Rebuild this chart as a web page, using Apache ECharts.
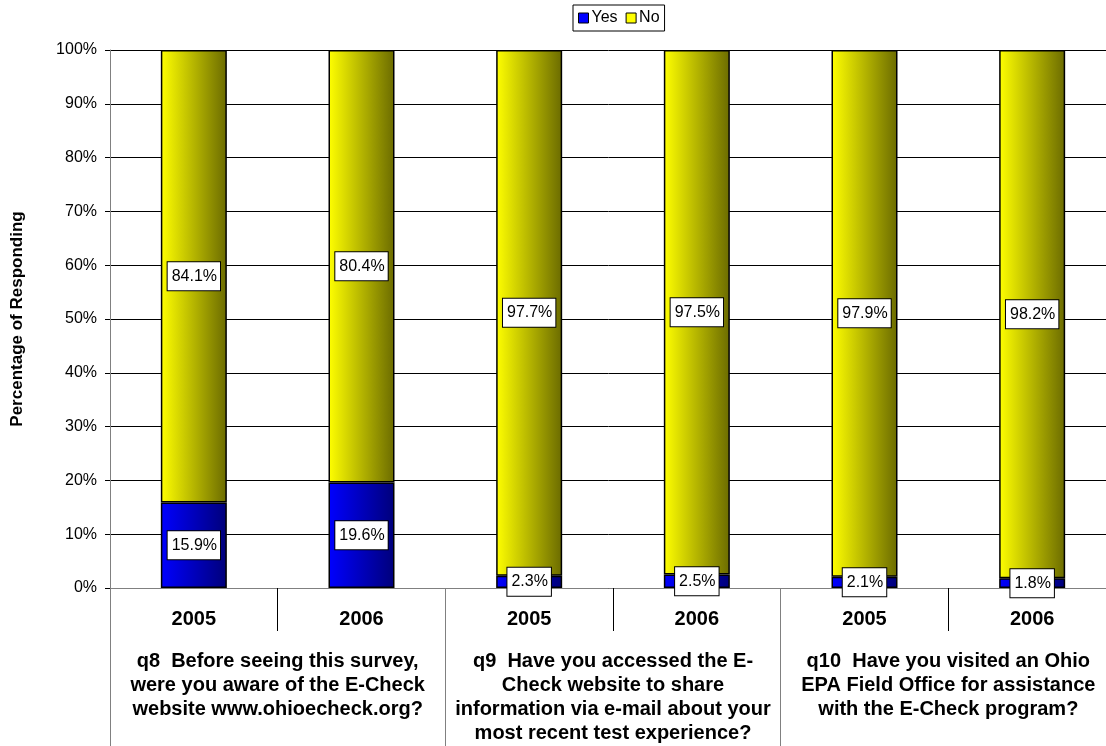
<!DOCTYPE html>
<html>
<head>
<meta charset="utf-8">
<script src="https://cdn.jsdelivr.net/npm/echarts@6/dist/echarts.min.js"></script>
<style>
  html, body { margin: 0; padding: 0; background: #fff; }
  #chart { width: 1106px; height: 746px; }
</style>
</head>
<body>
<div id="chart"></div>
<script>
// Survey years, one bar each
const years = ['2005', '2006', '2005', '2006', '2005', '2006'];
// Questions, each spanning two bars
const questions = [
  'q8  Before seeing this survey,\nwere you aware of the E-Check\nwebsite www.ohioecheck.org?',
  'q9  Have you accessed the E-\nCheck website to share\ninformation via e-mail about your\nmost recent test experience?',
  'q10  Have you visited an Ohio\nEPA Field Office for assistance\nwith the E-Check program?'
];
// Share of respondents (%)
const yesValues = [15.9, 19.6, 2.3, 2.5, 2.1, 1.8];
const noValues = [84.1, 80.4, 97.7, 97.5, 97.9, 98.2];

const FONT = '"Liberation Sans", Arial, sans-serif';

function grad(c0, c1) {
  return new echarts.graphic.LinearGradient(0, 0, 1, 0, [
    { offset: 0, color: c0 },
    { offset: 1, color: c1 }
  ]);
}

const labelStyle = {
  show: true,
  position: 'inside',
  formatter: p => p.value.toFixed(1) + '%',
  color: '#000',
  fontFamily: FONT,
  fontSize: 16,
  lineHeight: 18,
  backgroundColor: '#fff',
  borderColor: '#000',
  borderWidth: 1,
  padding: [5, 3, 5, 4]
};

const chart = echarts.init(document.getElementById('chart'), null, { renderer: 'canvas' });
chart.setOption({
  animation: false,
  textStyle: { fontFamily: FONT },
  legend: {
    top: 5,
    left: 573,
    itemWidth: 10,
    itemHeight: 10,
    itemGap: 8,
    padding: [5, 5, 5, 5],
    borderColor: '#000',
    borderWidth: 1,
    icon: 'rect',
    textStyle: { fontSize: 16, color: '#000', fontFamily: FONT, padding: [0, 0, 0, -2] },
    data: [
      { name: 'Yes', itemStyle: { color: '#0000ff', borderColor: '#000', borderWidth: 1 } },
      { name: 'No', itemStyle: { color: '#ffff00', borderColor: '#000', borderWidth: 1 } }
    ]
  },
  grid: { left: 110, top: 50, bottom: 158, width: 1006, outerBoundsMode: 'none', containLabel: false },
  xAxis: [
    {
      type: 'category',
      data: years,
      position: 'bottom',
      axisLine: { show: true, lineStyle: { color: '#808080', width: 1 } },
      axisTick: { show: true, length: 43, lineStyle: { color: '#000' } },
      axisLabel: {
        margin: 21,
        fontSize: 20,
        fontWeight: 'bold',
        color: '#000',
        fontFamily: FONT,
        interval: 0
      }
    },
    {
      type: 'category',
      data: questions,
      position: 'bottom',
      offset: 0,
      axisLine: { show: false },
      axisTick: { show: true, length: 160, lineStyle: { color: '#808080' } },
      axisLabel: {
        margin: 61,
        fontSize: 20,
        fontWeight: 'bold',
        lineHeight: 24,
        color: '#000',
        fontFamily: FONT,
        interval: 0,
        align: 'center'
      }
    }
  ],
  yAxis: {
    type: 'value',
    min: 0,
    max: 100,
    interval: 10,
    name: 'Percentage of Responding',
    nameLocation: 'middle',
    nameGap: 84,
    nameTextStyle: { fontSize: 17, fontWeight: 'bold', color: '#000', fontFamily: FONT },
    axisLine: { show: true, lineStyle: { color: '#808080', width: 1 } },
    axisTick: { show: true, length: 5, lineStyle: { color: '#000' } },
    axisLabel: { formatter: '{value}%', fontSize: 16, color: '#000', margin: 13, fontFamily: FONT },
    splitLine: { show: true, lineStyle: { color: '#000', width: 1 } }
  },
  series: [
    {
      name: 'Yes',
      type: 'bar',
      stack: 'total',
      xAxisIndex: 0,
      barWidth: 66,
      data: yesValues,
      itemStyle: { color: grad('#0000ff', '#00007a'), borderColor: '#000', borderWidth: 1.5 },
      label: labelStyle
    },
    {
      name: 'No',
      type: 'bar',
      stack: 'total',
      xAxisIndex: 0,
      barWidth: 66,
      data: noValues,
      itemStyle: { color: grad('#ffff00', '#6b6b00'), borderColor: '#000', borderWidth: 1.5 },
      label: labelStyle
    }
  ]
});
</script>
</body>
</html>
